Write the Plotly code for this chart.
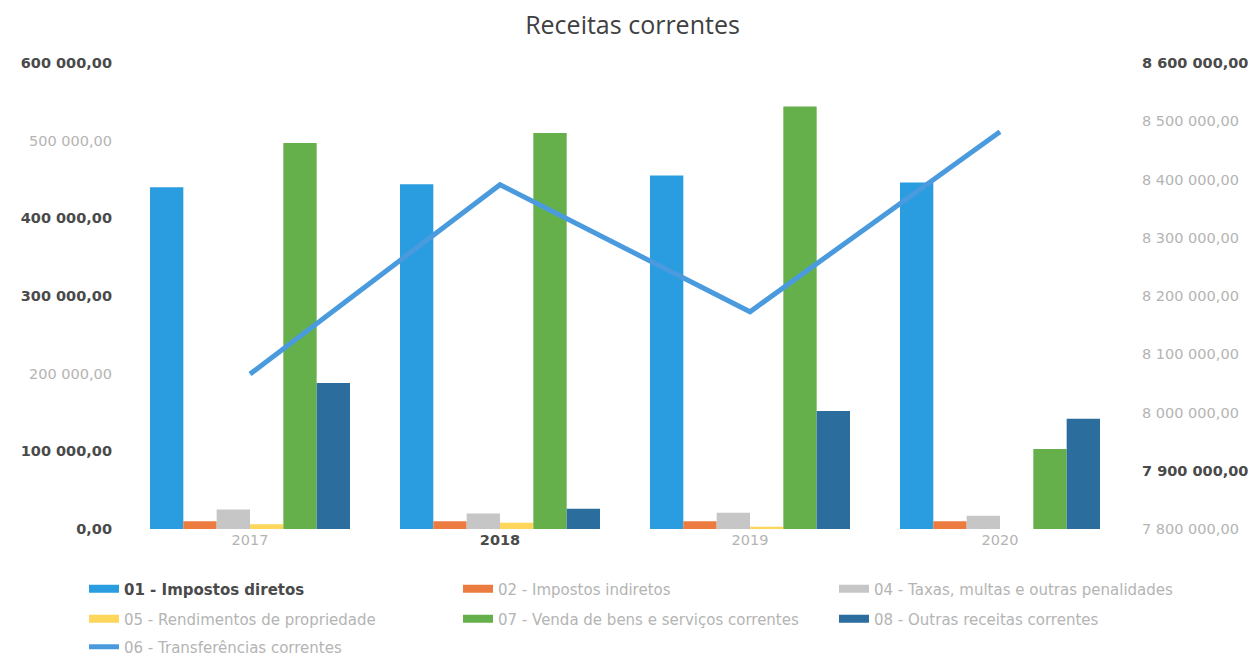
import plotly.graph_objects as go

# Receitas correntes por ano (euros)
anos = ["2017", "2018", "2019", "2020"]
impostos_diretos = [440000, 444000, 455000, 446000]
impostos_indiretos = [10000, 10000, 10000, 10000]
taxas_multas = [25000, 20000, 21000, 17000]
rendimentos_propriedade = [6000, 8000, 3000, 0]
venda_bens_servicos = [497000, 510000, 544000, 103000]
outras_receitas = [188000, 26000, 152000, 142000]
transferencias_correntes = [8066000, 8391000, 8173000, 8482000]

ticks_esq = [0, 100000, 200000, 300000, 400000, 500000, 600000]
ticks_dir = [7800000, 7900000, 8000000, 8100000, 8200000, 8300000, 8400000, 8500000, 8600000]
destaque_esq = {0, 100000, 300000, 400000, 600000}
destaque_dir = {7900000, 8600000}
destaque_anos = {"2018"}

ESCURO = "#4a4a4a"
CLARO = "#b4b4b4"
FONTE = "DejaVu Sans"
W, H = 1250, 656


def fmt(v):
    inteiro = f"{int(v):,}".replace(",", " ")
    return f"{inteiro},00"


def rotulo(txt, forte):
    if forte:
        return f"<b><span style='color:{ESCURO}'>{txt}</span></b>"
    return f"<span style='color:{CLARO}'>{txt}</span>"


# nome, valores, cor, destaque, posição da entrada de legenda (px)
series = [
    ("01 - Impostos diretos", impostos_diretos, "#2a9de1", True, (84, 589)),
    ("02 - Impostos indiretos", impostos_indiretos, "#ec7b3f", False, (458, 589)),
    ("04 - Taxas, multas e outras penalidades", taxas_multas, "#c6c6c6", False, (834, 589)),
    ("05 - Rendimentos de propriedade", rendimentos_propriedade, "#fdd65a", False, (84, 619)),
    ("07 - Venda de bens e serviços correntes", venda_bens_servicos, "#66b04b", False, (458, 619)),
    ("08 - Outras receitas correntes", outras_receitas, "#2b6d9d", False, (834, 619)),
]

fig = go.Figure()
legendas = {}


def legenda(idx, pos):
    chave = "legend" if idx == 1 else f"legend{idx}"
    legendas[chave] = dict(
        orientation="h", xref="container", yref="container",
        x=pos[0] / W, xanchor="left", y=1 - pos[1] / H, yanchor="middle",
        font=dict(family=FONTE, size=15, color=CLARO),
        bgcolor="rgba(0,0,0,0)", itemclick=False, itemdoubleclick=False,
    )
    return chave


for i, (nome, valores, cor, forte, pos) in enumerate(series, start=1):
    fig.add_trace(go.Bar(
        x=anos, y=valores, name=nome, marker=dict(color=cor, line=dict(width=0)),
        legendgroup=nome, showlegend=False, yaxis="y",
    ))
    # entrada de legenda em forma de barra larga
    fig.add_trace(go.Scatter(
        x=[None], y=[None], mode="lines", name=rotulo(nome, forte),
        line=dict(color=cor, width=8), legendgroup=nome, legend=legenda(i, pos),
        hoverinfo="skip",
    ))

fig.add_trace(go.Scatter(
    x=anos, y=transferencias_correntes, mode="lines",
    name=rotulo("06 - Transferências correntes", False),
    line=dict(color="#4a9ade", width=5), yaxis="y2", legend=legenda(7, (84, 647)),
))

fig.update_layout(
    width=W, height=H,
    margin=dict(l=125, r=125, t=63, b=127, autoexpand=False),
    paper_bgcolor="white", plot_bgcolor="white",
    title=dict(text="Receitas correntes", x=0.506, xanchor="center", y=0.962, yanchor="middle",
               font=dict(family="Open Sans", size=25, color="#404040")),
    barmode="group", bargap=0.2, bargroupgap=0,
    xaxis=dict(
        type="category", tickvals=anos,
        ticktext=[rotulo(a, a in destaque_anos) for a in anos],
        tickfont=dict(family=FONTE, size=14.5, color=CLARO),
        showgrid=False, showline=False, zeroline=False, ticks="", automargin=False,
    ),
    yaxis=dict(
        range=[0, 600000], tickvals=ticks_esq,
        ticktext=[rotulo(fmt(v), v in destaque_esq) for v in ticks_esq],
        tickfont=dict(family=FONTE, size=14.5, color=ESCURO),
        showgrid=False, zeroline=False, showline=False, ticks="",
        ticklabelstandoff=12, automargin=False,
    ),
    yaxis2=dict(
        range=[7800000, 8600000], tickvals=ticks_dir,
        ticktext=[rotulo(fmt(v), v in destaque_dir) for v in ticks_dir],
        tickfont=dict(family=FONTE, size=14.5, color=ESCURO),
        overlaying="y", side="right",
        showgrid=False, zeroline=False, showline=False, ticks="",
        ticklabelstandoff=16, automargin=False,
    ),
    showlegend=True,
    **legendas,
)

fig.write_html("out.html")
